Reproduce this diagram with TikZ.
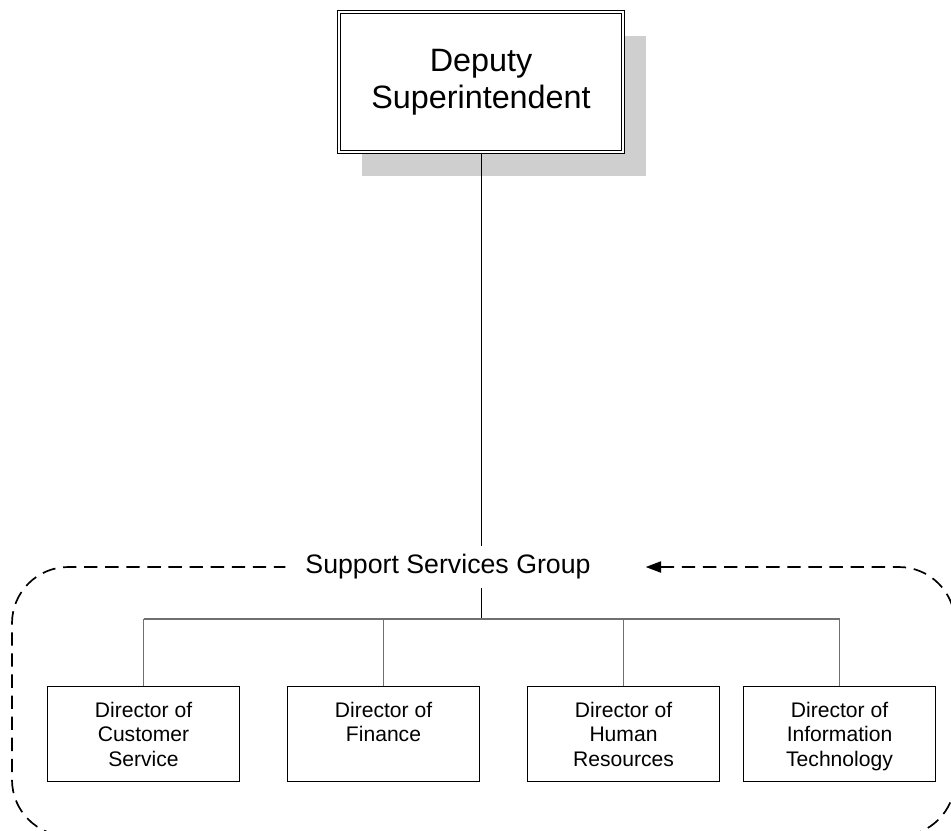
\documentclass[tikz,border=0pt]{standalone}
\usepackage{fontspec}
\setmainfont{Liberation Sans}
\usetikzlibrary{arrows.meta,shadows}
\definecolor{shadowgray}{HTML}{CFCFCF}
\definecolor{busgray}{HTML}{707070}

\begin{document}
\begin{tikzpicture}
    [
        x=0.025cm, y=-0.025cm,
        head box/.style={draw, fill=white, line width=0.8pt, double, double distance=1.8pt,
            minimum width=7.1cm, minimum height=3.5cm, align=center,
            font=\fontsize{23}{26}\selectfont,
            drop shadow={shadow xshift=0.575cm, shadow yshift=-0.6cm, fill=shadowgray, opacity=1}},
        director box/.style={draw, line width=1.1pt, minimum width=4.8cm, minimum height=2.38cm,
            align=center, text depth=0pt, font=\fontsize{15}{17.5}\selectfont},
        bus line/.style={draw=busgray, line width=1pt},
        group line/.style={line width=1.2pt, dash pattern=on 9.5pt off 5.5pt}
    ]
    \useasboundingbox (0,0) rectangle (951,830);
    \clip (0,0) rectangle (951,830);
    % head of the group
    \node[head box] (deputy) at (481,82) {Deputy\\Superintendent};
    \node[font=\fontsize{19}{22}\selectfont, minimum height=1.05cm, inner sep=0pt] (group) at (448,567) {Support Services Group};
    \draw[line width=0.6pt] (deputy.south) -- (deputy.south |- group.north);
    % directors
    \node[director box] (custserv) at (143.5,734) {Director of\\Customer\\Service};
    \node[director box] (finance) at (383.5,734) {Director of\\Finance\\\mbox{}};
    \node[director box] (humres) at (623.5,734) {Director of\\Human\\Resources};
    \node[director box] (infotech) at (839.5,734) {Director of\\Information\\Technology};
    \coordinate (bus) at (481,619);
    \draw[line width=0.6pt] (deputy.south |- group.south) -- (bus);
    \draw[bus line] (custserv.north |- bus) -- (infotech.north |- bus);
    \foreach \d in {custserv,finance,humres,infotech}
        \draw[bus line] (\d.north |- bus) -- (\d.north);
    % dashed boundary of the group
    \coordinate (gleft) at ([xshift=-14pt]group.west |- 0,567);
    \coordinate (gright) at ([xshift=39pt]group.east |- 0,567);
    \draw[group line, rounded corners=40, {Triangle[length=11pt,width=8pt]}-]
        (gright) -- (955,567) -- (955,836) -- (12,836) -- (12,567) -- (gleft);
\end{tikzpicture}
\end{document}
